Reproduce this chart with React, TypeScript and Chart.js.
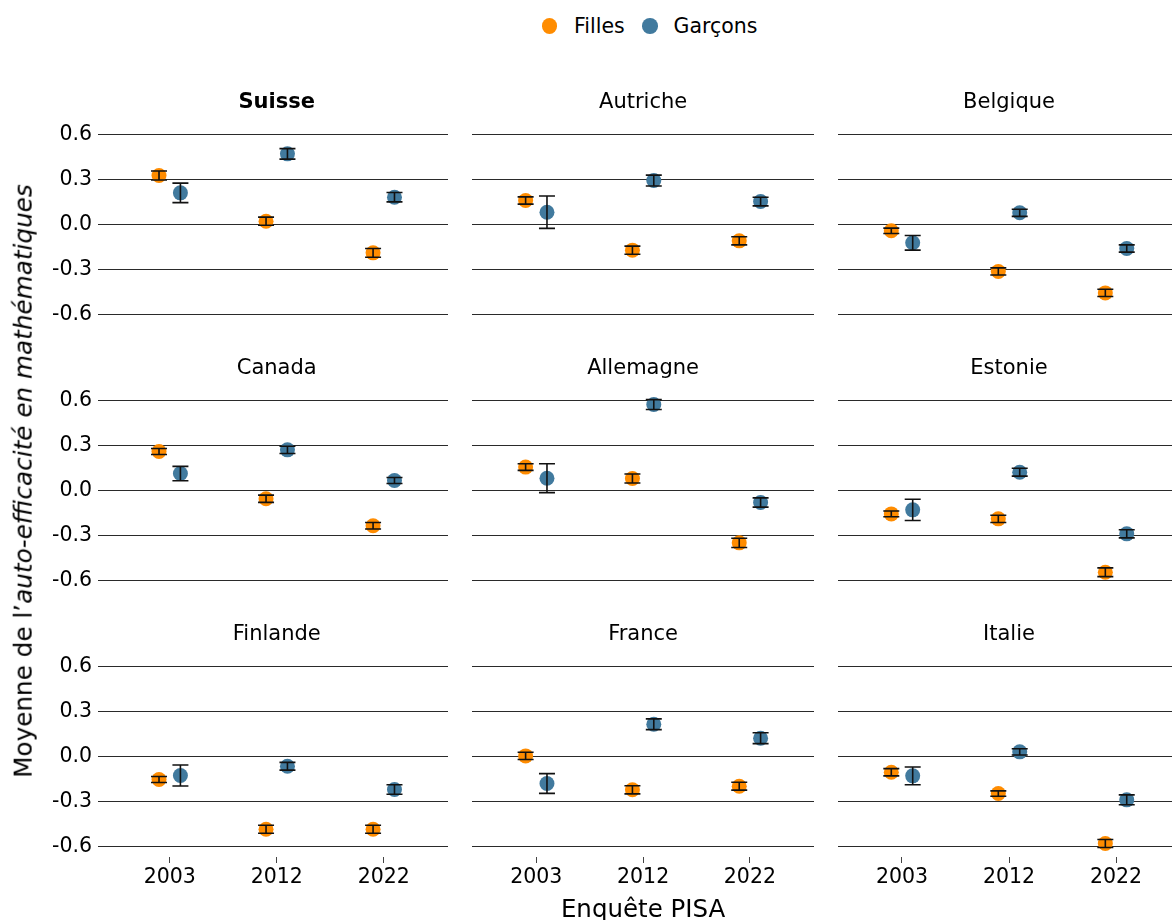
import React, { useEffect, useRef } from 'react';
import { Chart, registerables } from 'chart.js';

Chart.register(...registerables);

const FONT = '"DejaVu Sans", Verdana, sans-serif';
Chart.defaults.font.family = FONT;

// ---------- data ----------
const countries = ['Suisse', 'Autriche', 'Belgique', 'Canada', 'Allemagne', 'Estonie', 'Finlande', 'France', 'Italie'];
const boldCountry = 'Suisse';
const years = ['2003', '2012', '2022'];
const yTicks = [-0.6, -0.3, 0, 0.3, 0.6];
const seriesNames = ['Filles', 'Garçons'];
const seriesColors = ['#FF8C00', '#417A9E'];

// mean per country (rows) and year (columns)
const fillesMean = [
  [0.327, 0.022, -0.189],
  [0.16, -0.171, -0.109],
  [-0.042, -0.313, -0.456],
  [0.26, -0.055, -0.235],
  [0.156, 0.08, -0.349],
  [-0.156, -0.189, -0.545],
  [-0.153, -0.485, -0.485],
  [0.004, -0.222, -0.198],
  [-0.105, -0.247, -0.58],
];
const fillesErr = [
  [0.03, 0.027, 0.029],
  [0.024, 0.027, 0.027],
  [0.018, 0.024, 0.024],
  [0.02, 0.024, 0.022],
  [0.022, 0.03, 0.031],
  [0.019, 0.024, 0.029],
  [0.02, 0.027, 0.027],
  [0.024, 0.027, 0.026],
  [0.024, 0.018, 0.027],
];
const garconsMean = [
  [0.211, 0.471, 0.182],
  [0.082, 0.293, 0.153],
  [-0.122, 0.078, -0.16],
  [0.113, 0.271, 0.067],
  [0.082, 0.573, -0.08],
  [-0.129, 0.122, -0.289],
  [-0.127, -0.065, -0.22],
  [-0.18, 0.215, 0.122],
  [-0.129, 0.031, -0.289],
];
const garconsErr = [
  [0.065, 0.035, 0.031],
  [0.108, 0.036, 0.029],
  [0.049, 0.024, 0.024],
  [0.048, 0.024, 0.02],
  [0.096, 0.033, 0.031],
  [0.071, 0.026, 0.027],
  [0.07, 0.026, 0.032],
  [0.066, 0.036, 0.036],
  [0.059, 0.021, 0.033],
];
const seriesMeans = [fillesMean, garconsMean];
const seriesErrs = [fillesErr, garconsErr];
const dodge = [-0.1, 0.1];

// ---------- layout ----------
const COL_LEFT = [98, 472, 838];
const COL_RIGHT = [448, 814, 1172];
const X_MIN = [-0.67, -0.602, -0.598];
const X_MAX = [2.6, 2.6, 2.523];
const ROW_ZERO = [224.5, 490.5, 756.5];
const Y_MIN = -0.67;
const Y_MAX = 0.67;
const PX_PER_UNIT = 150;
const TICK_SIZE = 20.5;
const GRID_COLOR = '#2a2a2a';

const errorBarPlugin = {
  id: 'errorBars',
  afterDatasetsDraw(chart: any) {
    const ctx = chart.ctx;
    const ys = chart.scales.y;
    ctx.save();
    ctx.strokeStyle = '#111';
    ctx.lineWidth = 1.6;
    chart.data.datasets.forEach((ds: any, di: number) => {
      const meta = chart.getDatasetMeta(di);
      meta.data.forEach((pt: any, i: number) => {
        const d = ds.data[i];
        const x = pt.x;
        const yTop = ys.getPixelForValue(d.y + d.err);
        const yBot = ys.getPixelForValue(d.y - d.err);
        ctx.beginPath();
        ctx.moveTo(x, yTop);
        ctx.lineTo(x, yBot);
        ctx.moveTo(x - 8, yTop);
        ctx.lineTo(x + 8, yTop);
        ctx.moveTo(x - 8, yBot);
        ctx.lineTo(x + 8, yBot);
        ctx.stroke();
      });
    });
    ctx.restore();
  },
};

function Panel({ idx }: { idx: number }) {
  const ref = useRef<HTMLCanvasElement | null>(null);
  const row = Math.floor(idx / 3);
  const col = idx % 3;
  const padTop = 12;
  const padBottom = row === 2 ? 0 : 12;
  const xAxisH = row === 2 ? 50 : 0;
  const yAxisW = col === 0 ? COL_LEFT[0] : 0;
  const canvasLeft = col === 0 ? 0 : COL_LEFT[col];
  const plotTop = ROW_ZERO[row] - Y_MAX * PX_PER_UNIT;
  const plotH = (Y_MAX - Y_MIN) * PX_PER_UNIT;
  const canvasTop = plotTop - padTop;
  const canvasW = COL_RIGHT[col] - canvasLeft;
  const canvasH = padTop + plotH + xAxisH + padBottom;

  useEffect(() => {
    if (!ref.current) return;
    const chart = new Chart(ref.current, {
      type: 'scatter',
      data: {
        datasets: seriesNames.map((name, s) => ({
          label: name,
          data: years.map((_, i) => ({
            x: i + dodge[s],
            y: seriesMeans[s][idx][i],
            err: seriesErrs[s][idx][i],
          })),
          backgroundColor: seriesColors[s],
          borderColor: seriesColors[s],
          pointRadius: 7.5,
          pointHoverRadius: 7.5,
          pointBorderWidth: 0,
          clip: false,
        })) as any,
      },
      options: {
        responsive: false,
        animation: false,
        events: [],
        layout: { autoPadding: false, padding: { top: padTop, bottom: padBottom, left: 0, right: 0 } },
        plugins: {
          legend: { display: false },
          tooltip: { enabled: false },
          title: { display: false },
        },
        scales: {
          x: {
            type: 'linear',
            min: X_MIN[col],
            max: X_MAX[col],
            display: row === 2,
            afterFit: (s: any) => {
              s.height = xAxisH;
              s.paddingLeft = 0;
              s.paddingRight = 0;
              s.paddingTop = 0;
              s.paddingBottom = 0;
            },
            afterBuildTicks: (s: any) => {
              s.ticks = years.map((_, i) => ({ value: i }));
            },
            ticks: {
              callback: (v: any) => years[Math.round(Number(v))],
              font: { family: FONT, size: TICK_SIZE },
              color: '#000',
              padding: 2,
              maxRotation: 0,
              autoSkip: false,
            },
            grid: {
              drawOnChartArea: false,
              drawTicks: true,
              tickLength: 6,
              color: '#444',
              lineWidth: 1,
            },
            border: { display: false },
          },
          y: {
            type: 'linear',
            min: Y_MIN,
            max: Y_MAX,
            afterFit: (s: any) => {
              s.width = yAxisW;
              s.paddingTop = 0;
              s.paddingBottom = 0;
              s.paddingLeft = 0;
              s.paddingRight = 0;
            },
            afterBuildTicks: (s: any) => {
              s.ticks = yTicks.map((v) => ({ value: v }));
            },
            ticks: {
              display: col === 0,
              callback: (v: any) => Number(v).toFixed(1),
              font: { family: FONT, size: TICK_SIZE },
              color: '#000',
              padding: 6,
            },
            grid: {
              color: GRID_COLOR,
              lineWidth: 1.1,
              drawTicks: false,
            },
            border: { display: false },
          },
        },
      } as any,
      plugins: [errorBarPlugin],
    });
    return () => chart.destroy();
  }, [idx]);

  return (
    <canvas
      ref={ref}
      width={canvasW}
      height={canvasH}
      style={{
        position: 'absolute',
        left: canvasLeft,
        top: canvasTop,
        width: canvasW,
        height: canvasH,
      }}
    />
  );
}

function centerTickX(col: number) {
  const w = COL_RIGHT[col] - COL_LEFT[col];
  return COL_LEFT[col] + ((1 - X_MIN[col]) / (X_MAX[col] - X_MIN[col])) * w;
}

function Label({
  text,
  x,
  baseline,
  size,
  bold,
  anchor = 'center',
}: {
  text: React.ReactNode;
  x: number;
  baseline: number;
  size: number;
  bold?: boolean;
  anchor?: 'left' | 'center';
}) {
  return (
    <div
      style={{
        position: 'absolute',
        left: x,
        top: baseline - 0.846 * size,
        fontFamily: FONT,
        fontSize: size,
        lineHeight: 1,
        fontWeight: bold ? 'bold' : 'normal',
        whiteSpace: 'nowrap',
        color: '#000',
        transform: anchor === 'center' ? 'translateX(-50%)' : undefined,
      }}
    >
      {text}
    </div>
  );
}

export default function App() {
  const legendItems = [
    { circle: 549.5, text: 574 },
    { circle: 650, text: 673.5 },
  ];
  return (
    <div
      style={{
        position: 'fixed',
        left: 0,
        top: 0,
        width: 1172,
        height: 920,
        background: '#fff',
        overflow: 'hidden',
      }}
    >
      {/* legend */}
      {seriesNames.map((name, s) => (
        <React.Fragment key={name}>
          <div
            style={{
              position: 'absolute',
              left: legendItems[s].circle - 7.8,
              top: 25.8 - 7.8,
              width: 15.6,
              height: 15.6,
              borderRadius: '50%',
              background: seriesColors[s],
            }}
          />
          <Label text={name} x={legendItems[s].text} baseline={33.3} size={20.5} anchor="left" />
        </React.Fragment>
      ))}

      {/* panels */}
      {countries.map((c, i) => (
        <Panel key={c} idx={i} />
      ))}

      {/* panel titles */}
      {countries.map((c, i) => {
        const row = Math.floor(i / 3);
        const col = i % 3;
        return (
          <Label
            key={'t' + c}
            text={c}
            x={centerTickX(col)}
            baseline={ROW_ZERO[row] - 116}
            size={21}
            bold={c === boldCountry}
          />
        );
      })}

      {/* x axis title */}
      <Label text="Enquête PISA" x={centerTickX(1)} baseline={917.5} size={24.5} />

      {/* y axis title */}
      <div
        style={{
          position: 'absolute',
          left: 24,
          top: 480.5,
          transform: 'translate(-50%, -50%) rotate(-90deg)',
          fontFamily: FONT,
          fontSize: 24.7,
          lineHeight: 1,
          whiteSpace: 'nowrap',
          color: '#000',
        }}
      >
        Moyenne de l’<i>auto-efficacité en mathématiques</i>
      </div>
    </div>
  );
}
